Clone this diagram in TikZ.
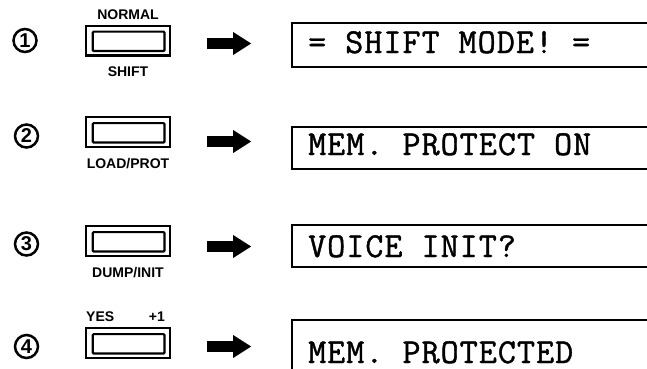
\documentclass[tikz,border=0pt]{standalone}
\usepackage{fontspec}
\setmainfont{Liberation Sans}
\newfontfamily\lcdfont[FakeBold=1.2, LetterSpace=3]{Latin Modern Mono}
\usetikzlibrary{arrows.meta}
\usetikzlibrary{positioning}
\tikzset{
    keycap/.style={draw=black, line width=2.2pt, minimum width=83.8pt, minimum height=29.8pt, inner sep=0pt,
        path picture={\draw[line width=2.2pt, rounded corners=1pt]
            ([shift={(6.7,6)}]path picture bounding box.north west) rectangle
            ([shift={(-5.4,-4.4)}]path picture bounding box.south east);}},
    keylabel/.style={font=\fontsize{14}{14}\selectfont\bfseries, inner sep=0pt},
    stepno/.style={circle, draw=black, line width=2.5pt, minimum size=23pt, inner sep=0pt,
        font=\fontsize{20}{20}\selectfont\bfseries},
    lcdbox/.style={draw=black, line width=1.8pt, anchor=west, minimum width=400pt, inner sep=0pt},
    lcdtext/.style={anchor=base west, inner sep=0pt, font=\lcdfont\fontsize{35}{35}\selectfont\frenchspacing},
    pressarrow/.style={line width=11pt, -{Triangle[width=23pt, length=18pt, line width=0.1pt]}, shorten >=40pt},
}

\begin{document}
\begin{tikzpicture}[x=1pt, y=-1pt]
\useasboundingbox (0,0) rectangle (647,368);
\clip (0,0) rectangle (647,368);

% step 1
\node[stepno] (n1) at (25,40.5) {1};
\node[keycap] (key1) at (128,40.5) {};
\node[keylabel, above=5pt of key1] (top1) {NORMAL};
\node[keylabel, below=10pt of key1] (bot1) {SHIFT};
\coordinate (a1) at (207,43.5);
\node[lcdbox, minimum height=44pt] (lcd1) at (291,45) {};
\node[lcdtext] (msg1) at (308,53) {= SHIFT MODE! =};
\draw[pressarrow] (a1) -- (a1 -| lcd1.west);

% step 2
\node[stepno] (n2) at (26.5,136) {2};
\node[keycap] (key2) at (128,132) {};
\node[keylabel, below=10pt of key2] (bot2) {LOAD/PROT};
\coordinate (a2) at (207,141.5);
\node[lcdbox, minimum height=42pt] (lcd2) at (291,148) {};
\node[lcdtext] (msg2) at (308,155) {MEM. PROTECT ON};
\draw[pressarrow] (a2) -- (a2 -| lcd2.west);

% step 3
\node[stepno] (n3) at (26.5,244) {3};
\node[keycap] (key3) at (128,241) {};
\node[keylabel, below=10pt of key3] (bot3) {DUMP/INIT};
\coordinate (a3) at (207,246.5);
\node[lcdbox, minimum height=42pt] (lcd3) at (291,246) {};
\node[lcdtext] (msg3) at (308,257) {VOICE INIT?};
\draw[pressarrow] (a3) -- (a3 -| lcd3.west);

% step 4
\node[stepno] (n4) at (26.5,346.5) {4};
\node[keycap] (key4) at (128,343) {};
\node[keylabel, above=5pt of key4.north west, anchor=south west, xshift=1pt] (top4) {YES};
\node[keylabel, above=5pt of key4.north east, anchor=south east, xshift=-6pt] (top4b) {+1};
\coordinate (a4) at (207,346.5);
\node[lcdbox, minimum height=60pt] (lcd4) at (291,350) {};
\node[lcdtext] (msg4) at (308,363) {MEM. PROTECTED};
\draw[pressarrow] (a4) -- (a4 -| lcd4.west);
\end{tikzpicture}
\end{document}
